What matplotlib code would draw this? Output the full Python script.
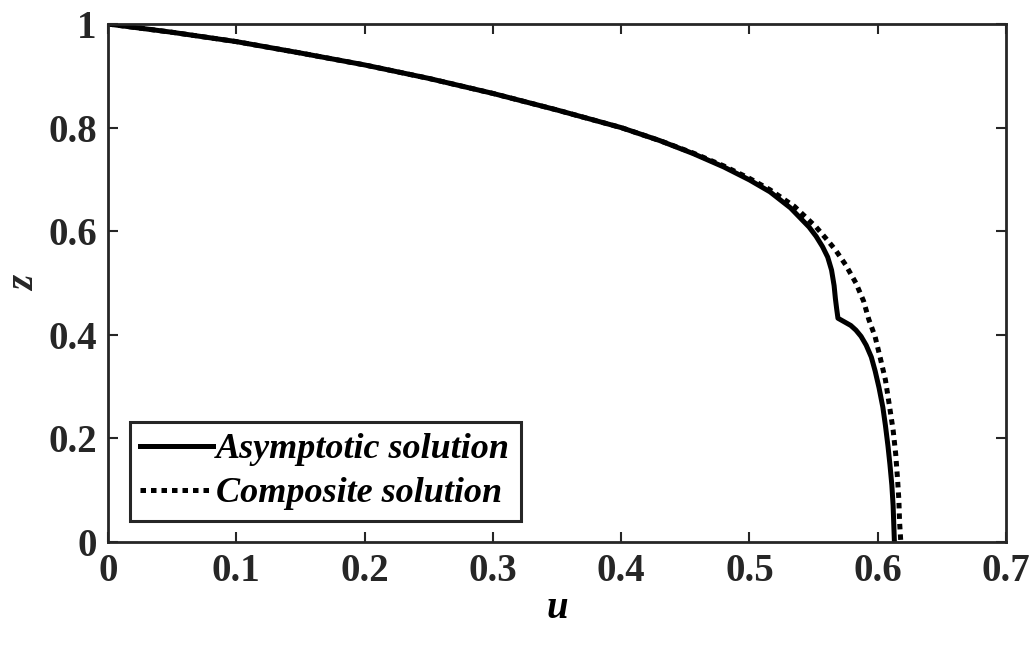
import numpy as np
import matplotlib.pyplot as plt

# Pontos
u_asym = [0.0, 0.05, 0.1, 0.15, 0.2, 0.25, 0.3, 0.35, 0.4, 0.43, 0.456, 0.48,
          0.50, 0.516, 0.532, 0.5465, 0.552, 0.557, 0.561, 0.564, 0.566, 0.567,
          0.568, 0.569, 0.574, 0.579, 0.583, 0.587, 0.591, 0.595, 0.598, 0.601,
          0.604, 0.606, 0.608, 0.6095, 0.611, 0.612, 0.6125, 0.613]
z_asym = [1.0, 0.984, 0.966, 0.944, 0.921, 0.895, 0.866, 0.834, 0.800, 0.775,
          0.750, 0.724, 0.699, 0.676, 0.645, 0.608, 0.590, 0.570, 0.550, 0.525,
          0.495, 0.470, 0.450, 0.432, 0.425, 0.418, 0.409, 0.397, 0.380, 0.357,
          0.330, 0.298, 0.260, 0.225, 0.185, 0.150, 0.110, 0.070, 0.035, 0.0]

u_comp = [0.0, 0.05, 0.1, 0.15, 0.2, 0.25, 0.3, 0.35, 0.4, 0.43, 0.456, 0.48,
          0.50, 0.516, 0.535, 0.552, 0.560, 0.567, 0.575, 0.583, 0.589, 0.593,
          0.598, 0.602, 0.606, 0.609, 0.612, 0.614, 0.6155, 0.6165, 0.617,
          0.618]
z_comp = [1.0, 0.984, 0.966, 0.944, 0.921, 0.895, 0.866, 0.834, 0.800, 0.775,
          0.751, 0.726, 0.702, 0.680, 0.648, 0.608, 0.585, 0.564, 0.535, 0.500,
          0.465, 0.430, 0.396, 0.355, 0.313, 0.265, 0.216, 0.170, 0.120, 0.080,
          0.040, 0.0]

xticks = [0, 0.1, 0.2, 0.3, 0.4, 0.5, 0.6, 0.7]
xtick_labels = ["0", "0.1", "0.2", "0.3", "0.4", "0.5", "0.6", "0.7"]
yticks = [0, 0.2, 0.4, 0.6, 0.8, 1.0]
ytick_labels = ["0", "0.2", "0.4", "0.6", "0.8", "1"]

plt.rcParams["font.family"] = ["Liberation Serif", "DejaVu Serif"]
plt.rcParams["font.weight"] = "bold"

fig = plt.figure(figsize=(10.35, 6.45), dpi=100)
ax = fig.add_axes([0.1043, 0.1597, 0.8677, 0.8031])

ax.plot(u_asym, z_asym, "-", color="black", lw=3.6, label="Asymptotic solution",
        solid_joinstyle="round")
ax.plot(u_comp, z_comp, color="black", lw=3.6, linestyle=(0, (1.1, 1.0)),
        dash_capstyle="butt", label="Composite solution")

ax.set_xlim(0, 0.7)
ax.set_ylim(0, 1)
ax.set_xticks(xticks)
ax.set_xticklabels(xtick_labels)
ax.set_yticks(yticks)
ax.set_yticklabels(ytick_labels)
ax.tick_params(direction="in", length=7, width=1.5, colors="#262626",
               labelcolor="#262626", labelsize=28, top=True, right=True, pad=8)
for s in ax.spines.values():
    s.set_linewidth(2)
    s.set_color("#262626")

ax.set_xlabel("u", fontsize=28, style="italic", fontweight="bold", labelpad=0)
fig.text(25 / 1035, 0.561, "z", rotation=90, ha="center", va="center",
         fontsize=28, style="italic", fontweight="bold", color="#262626")

leg = ax.legend(loc="lower left", bbox_to_anchor=(0.024, 0.04),
                prop={"style": "italic", "weight": "bold", "size": 26},
                handlelength=2.0, handletextpad=0.1, borderpad=0.3,
                labelspacing=0.3, fancybox=False, framealpha=1,
                borderaxespad=0)
leg.get_frame().set_edgecolor("#262626")
leg.get_frame().set_linewidth(2.2)

fig.savefig("out.png", dpi=100)
